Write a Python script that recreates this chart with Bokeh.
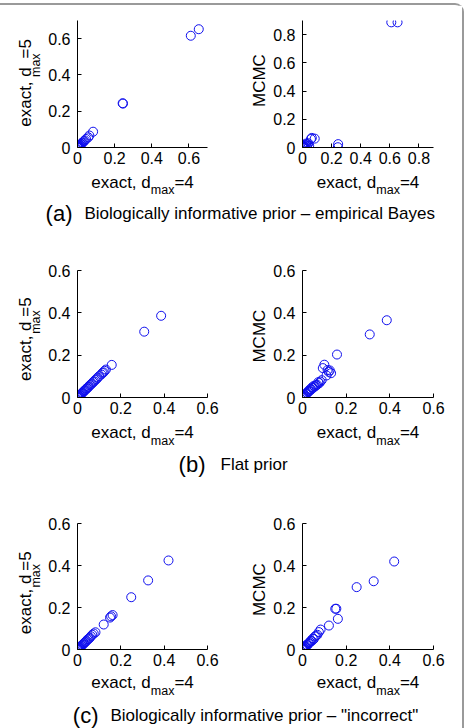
import math
from bokeh.plotting import figure
from bokeh.models import Range1d, FixedTicker, Label
from bokeh.core.properties import value
from bokeh.layouts import column, row
from bokeh.embed import file_html
from bokeh.resources import INLINE

# ---------------- data ----------------
# (a) Biologically informative prior - empirical Bayes
exact4_a = [0.653, 0.610, 0.245, 0.243, 0.084, 0.064, 0.058, 0.046, 0.040, 0.034, 0.029, 0.025, 0.021, 0.018,
            0.015, 0.012, 0.010, 0.008, 0.007, 0.005, 0.004, 0.003, 0.002, 0.002, 0.001, 0.001, 0.000, 0.000]
exact5_a = [0.652, 0.616, 0.242, 0.244, 0.087, 0.066, 0.056, 0.047, 0.039, 0.035, 0.028, 0.026, 0.020, 0.019,
            0.015, 0.012, 0.011, 0.008, 0.007, 0.005, 0.004, 0.003, 0.002, 0.002, 0.001, 0.001, 0.000, 0.000]
mcmc_a = [0.887, 0.887, 0.024, 0.002, 0.063, 0.068, 0.060, 0.012, 0.030, 0.022, 0.008, 0.028, 0.015, 0.004,
          0.020, 0.006, 0.010, 0.002, 0.012, 0.004, 0.006, 0.001, 0.003, 0.000, 0.002, 0.000, 0.001, 0.000]

# (b) Flat prior
exact4_b = [0.386, 0.308, 0.158, 0.131, 0.125, 0.120, 0.115, 0.110, 0.100, 0.093, 0.088, 0.082, 0.077, 0.072,
            0.067, 0.062, 0.057, 0.052, 0.048, 0.044, 0.040, 0.036, 0.032, 0.028, 0.025, 0.021, 0.018, 0.015,
            0.012, 0.009, 0.007, 0.005, 0.003, 0.001, 0.000]
exact5_b = [0.386, 0.311, 0.154, 0.132, 0.126, 0.119, 0.116, 0.109, 0.101, 0.094, 0.087, 0.083, 0.076, 0.073,
            0.066, 0.062, 0.058, 0.051, 0.048, 0.043, 0.041, 0.035, 0.032, 0.029, 0.024, 0.021, 0.018, 0.015,
            0.012, 0.009, 0.007, 0.005, 0.003, 0.001, 0.000]
mcmc_b = [0.365, 0.298, 0.203, 0.115, 0.128, 0.121, 0.130, 0.104, 0.155, 0.139, 0.082, 0.075, 0.068, 0.072,
          0.060, 0.058, 0.052, 0.055, 0.045, 0.048, 0.038, 0.040, 0.030, 0.032, 0.026, 0.022, 0.016, 0.018,
          0.010, 0.012, 0.006, 0.004, 0.003, 0.001, 0.000]

# (c) Biologically informative prior - "incorrect"
exact4_c = [0.420, 0.326, 0.248, 0.162, 0.155, 0.150, 0.121, 0.083, 0.075, 0.068, 0.062, 0.057, 0.052, 0.047,
            0.042, 0.038, 0.034, 0.030, 0.026, 0.022, 0.018, 0.015, 0.012, 0.009, 0.007, 0.005, 0.003, 0.002,
            0.001, 0.000]
exact5_c = [0.424, 0.329, 0.249, 0.164, 0.158, 0.152, 0.119, 0.082, 0.076, 0.070, 0.063, 0.056, 0.051, 0.048,
            0.042, 0.037, 0.034, 0.030, 0.025, 0.022, 0.018, 0.015, 0.012, 0.009, 0.007, 0.005, 0.003, 0.002,
            0.001, 0.000]
mcmc_c = [0.419, 0.325, 0.297, 0.146, 0.194, 0.194, 0.114, 0.095, 0.083, 0.070, 0.066, 0.062, 0.050, 0.052,
          0.040, 0.042, 0.035, 0.030, 0.028, 0.020, 0.022, 0.015, 0.012, 0.010, 0.006, 0.005, 0.003, 0.002,
          0.001, 0.000]

ticks_07 = [0, 0.2, 0.4, 0.6]
ticks_09 = [0, 0.2, 0.4, 0.6, 0.8]
ticks_06 = [0, 0.2, 0.4, 0.6]
labels_07 = ["0", "0.2", "0.4", "0.6"]
labels_09 = ["0", "0.2", "0.4", "0.6", "0.8"]
labels_06 = ["0", "0.2", "0.4", "0.6"]

captions = [
    ("(a)", "Biologically informative prior \u2013 empirical Bayes"),
    ("(b)", "Flat prior"),
    ("(c)", "Biologically informative prior \u2013 \"incorrect\""),
]

# ---------------- style ----------------
FONT = "Liberation Sans"
BLUE = "#1010ee"
TICK_FS = 16
LAB_FS = 17
SUB_FS = 12.5
W = 462

AW = {'a': 556, 'b': 556, 'c': 500, 'd': 556, 'e': 556, 'f': 278, 'g': 556, 'h': 556, 'i': 222, 'j': 222,
      'k': 500, 'l': 222, 'm': 833, 'n': 556, 'o': 556, 'p': 556, 'q': 556, 'r': 333, 's': 500, 't': 278,
      'u': 556, 'v': 500, 'w': 722, 'x': 500, 'y': 500, 'z': 500, ' ': 278, ',': 278, '=': 584, '.': 278,
      'M': 833, 'C': 722, '(': 333, ')': 333, 'B': 667, 'F': 611}


def tw(s, fs):
    return sum(AW.get(ch, 556) for ch in s) / 1000.0 * fs


def lab(p, text, x, y, fs, align="center", baseline="middle"):
    p.add_layout(Label(x=x, y=y, x_units="screen", y_units="screen", text=text,
                       text_font=FONT, text_font_size=f"{fs}px", text_color="black",
                       text_align=align, text_baseline=baseline))


def vtext(p, text, x, y, fs):
    # rotated (reading upwards) text glyph, centred on (x, y) in pixel data units
    p.text(x=[x], y=[y], text=[text], angle=math.pi / 2, text_align="center", text_baseline="middle",
           text_font=value(FONT), text_font_size=value(f"{fs}px"), text_color="black")


def blank(width, height):
    p = figure(width=width, height=height, x_range=Range1d(0, width), y_range=Range1d(0, height),
               output_backend="svg", toolbar_location=None, min_border=0)
    p.axis.visible = False
    p.grid.visible = False
    p.outline_line_color = None
    return p


def panel(xs, ys, rmax, ticks, tlabels, width, bl, br, bt, bb, height):
    p = figure(width=width, height=height, x_range=Range1d(0, rmax), y_range=Range1d(0, rmax),
               output_backend="svg", toolbar_location=None,
               min_border_left=bl, min_border_right=br, min_border_top=bt, min_border_bottom=bb)
    p.outline_line_color = None
    p.grid.visible = False
    p.scatter(xs, ys, marker="circle", size=9, fill_color=None, line_color=BLUE, line_width=1)
    for ax in (p.xaxis[0], p.yaxis[0]):
        ax.ticker = FixedTicker(ticks=ticks)
        ax.major_label_overrides = {tv: tl for tv, tl in zip(ticks, tlabels)}
        ax.minor_tick_line_color = None
        ax.major_tick_in = 4
        ax.major_tick_out = 0
        ax.axis_line_color = "black"
        ax.major_tick_line_color = "black"
        ax.major_label_text_font = FONT
        ax.major_label_text_font_size = f"{TICK_FS}px"
        ax.major_label_text_color = "black"
    p.xaxis[0].major_label_standoff = 4
    p.yaxis[0].major_label_standoff = 7
    return p


def ylabel_fig(kind, width, height, fcy):
    p = blank(width, height)
    if kind == "MCMC":
        vtext(p, "MCMC", 25, fcy, LAB_FS)
    else:
        v1, v2, v3 = tw("exact, d", LAB_FS), tw("max", SUB_FS), tw("=5", LAB_FS)
        y0 = fcy - (v1 + v2 + v3) / 2
        vtext(p, "exact, d", 25.2, y0 + v1 / 2, LAB_FS)
        vtext(p, "max", 35.6, y0 + v1 + v2 / 2, SUB_FS)
        vtext(p, "=5", 25.2, y0 + v1 + v2 + v3 / 2, LAB_FS)
    return p


def xlabel_fig(height, ymain, ysub):
    p = blank(W, height)
    w1, w2, w3 = tw("exact, d", LAB_FS), tw("max", SUB_FS), tw("=4", LAB_FS)
    for cx in (142, 367.5):
        x0 = cx - (w1 + w2 + w3) / 2
        lab(p, "exact, d", x0 + w1 / 2, ymain, LAB_FS)
        lab(p, "max", x0 + w1 + w2 / 2, ysub, SUB_FS)
        lab(p, "=4", x0 + w1 + w2 + w3 / 2, ymain, LAB_FS)
    return p


def caption(tag, text, tag_end, text_start, height, ymid):
    p = blank(W, height)
    lab(p, tag, tag_end, ymid, 22, align="right")
    lab(p, text, text_start, ymid, 17, align="left")
    return p


# page geometry (content starts 5px down because of the frame line)
# left panel: y-label strip 0..44, figure 44..234 (frame 77..207)
# right panel: y-label strip 234..270, figure 270..462 (frame 302..433)
specs = [
    # xs, y_left, y_right, left max, right max, left ticks, right ticks, top, frame_h
    (exact4_a, exact5_a, mcmc_a, 0.7, 0.9, (ticks_07, labels_07), (ticks_09, labels_09), 15, 127),
    (exact4_b, exact5_b, mcmc_b, 0.6, 0.6, (ticks_06, labels_06), (ticks_06, labels_06), 30, 127),
    (exact4_c, exact5_c, mcmc_c, 0.6, 0.6, (ticks_06, labels_06), (ticks_06, labels_06), 33, 126),
]
# x-label strip: height, main-text middle, subscript middle (from strip bottom)
xlab_geom = [(29, 18.5, 10.4), (31, 20, 11.4), (29, 20, 11.4)]
# caption: tag right end, text start, height, middle (from bottom)
cap_geom = [(72, 84, 40, 27), (205, 220, 38, 26), (98, 110, 26, 13)]
BB = 24

children = []
for (xs, yl, yr, rl, rr, tl, tr, top, fh), xg, cap, cg in zip(specs, xlab_geom, captions, cap_geom):
    h = top + fh + BB
    fcy = BB + fh / 2
    left = panel(xs, yl, rl, tl[0], tl[1], 190, 33, 27, top, BB, h)
    right = panel(xs, yr, rr, tr[0], tr[1], 192, 32, 29, top, BB, h)
    children.append(row(ylabel_fig("exact5", 44, h, fcy), left, ylabel_fig("MCMC", 36, h, fcy), right))
    children.append(xlabel_fig(*xg))
    children.append(caption(cap[0], cap[1], cg[0], cg[1], cg[2], cg[3]))

layout = column(*children, styles={"margin-top": "3px", "border-top": "2px solid #9a9a9a",
                                   "border-right": "2px solid #9a9a9a",
                                   "border-top-right-radius": "9px"})

open("out.html", "w").write(file_html(layout, INLINE))
